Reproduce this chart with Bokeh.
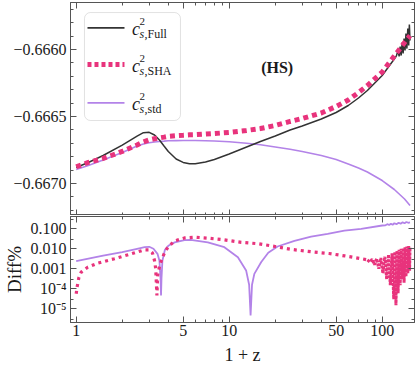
from bokeh.plotting import figure
from bokeh.layouts import column
from bokeh.models import (LinearAxis, LogAxis, FixedTicker, CustomJSTickFormatter,
                          Range1d, BoxAnnotation, Label)
from bokeh.embed import file_html
from bokeh.resources import INLINE

# ---------------- data ----------------
# top panel: squared sound speed vs 1+z
z_top = [1, 1.2, 1.5, 2, 2.5, 2.75, 3, 3.25, 3.5, 3.75, 4, 4.5, 5, 5.5, 6, 7, 8, 10,
         13, 16, 20, 25, 30, 40, 50, 60, 70, 80, 100, 120, 140, 152]
cs2_sha = [-0.666875, -0.666843, -0.666813, -0.666761, -0.666713, -0.666690, -0.666675,
           -0.666666, -0.666660, -0.666654, -0.666648, -0.666643, -0.666640, -0.666637,
           -0.666636, -0.666631, -0.666627, -0.666619, -0.666604, -0.666590, -0.666567,
           -0.666537, -0.666515, -0.666474, -0.666425, -0.666377, -0.666321, -0.666269,
           -0.666168, -0.666049, -0.665948, -0.665896]
cs2_std = [-0.666896, -0.666866, -0.666825, -0.666769, -0.666720, -0.666705, -0.666696,
           -0.666690, -0.666687, -0.666684, -0.666681, -0.666680, -0.666679, -0.666679,
           -0.666679, -0.666681, -0.666683, -0.666689, -0.666700, -0.666711, -0.666728,
           -0.666745, -0.666761, -0.666791, -0.666821, -0.666854, -0.666884, -0.666914,
           -0.666978, -0.667045, -0.667116, -0.667164]
z_full = [1, 1.2, 1.5, 2, 2.5, 2.75, 3, 3.25, 3.5, 3.75, 4, 4.5, 5, 5.5, 6, 7, 8, 10,
          13, 16, 20, 25, 30, 40, 50, 60, 70, 80, 100, 120,
          124, 127, 129, 131, 133, 135, 137, 139, 141, 143, 145, 147, 149, 150.5, 152]
cs2_full = [-0.666881, -0.666843, -0.666791, -0.666713, -0.666646, -0.666621, -0.666618,
            -0.666638, -0.666675, -0.666720, -0.666761, -0.666817, -0.666843, -0.666853,
            -0.666852, -0.666840, -0.666821, -0.666780, -0.666728, -0.666687, -0.666646,
            -0.666601, -0.666571, -0.666519, -0.666470, -0.666418, -0.666362, -0.666306,
            -0.666194, -0.666071,
            -0.666045, -0.666007, -0.666052, -0.665978, -0.666045, -0.665948, -0.666030,
            -0.665918, -0.666007, -0.665881, -0.665993, -0.665843, -0.665970, -0.665813,
            -0.665933]

# bottom panel: percentage differences
z_std_d = [1, 1.5, 2, 2.5, 2.8, 3.0, 3.2, 3.4, 3.5, 3.56, 3.585, 3.61, 3.66, 3.8, 4.0,
           4.4, 5.1, 5.6, 7.25, 9.3, 11.4, 12.9, 13.5, 13.8, 14.1, 14.6, 16.2, 18, 20.7,
           26.7, 34.3, 44, 56.6, 72.9, 100, 105, 108, 111, 114, 117, 120, 124, 128, 132,
           136, 140, 144, 148, 152]
diff_std = [0.0024, 0.0045, 0.0069, 0.010, 0.012, 0.0126, 0.010, 0.0056, 0.0025, 0.00032,
            0.000047, 0.00032, 0.0025, 0.0089, 0.0141, 0.021, 0.027, 0.028, 0.021, 0.012,
            0.0038, 0.00083, 0.00016, 0.0000047, 0.00016, 0.00056, 0.0022, 0.0063, 0.013,
            0.025, 0.041, 0.056, 0.081, 0.10, 0.146, 0.15, 0.17, 0.155, 0.18, 0.16,
            0.19, 0.17, 0.2, 0.18, 0.21, 0.19, 0.22, 0.2, 0.21]
z_sha_d = [1, 1.015, 1.04, 1.078, 1.19, 1.38, 1.78, 2.29, 2.8, 3.0, 3.15, 3.25, 3.31, 3.37,
           3.41, 3.5, 3.6, 3.8, 4.0, 4.4, 5.1, 6, 7.3, 9.3, 12, 15.4, 20, 25, 35, 45, 57,
           73, 80, 83, 86, 89, 92, 95, 98, 101, 104, 107, 110, 113, 116, 119, 121, 123,
           125, 127, 129, 131, 133, 135, 137, 139, 141, 143, 145, 147, 149, 151, 152]
diff_sha = [5.6e-5, 1.26e-4, 3.5e-4, 6.8e-4, 1.2e-3, 1.9e-3, 3.2e-3, 5.6e-3, 8.9e-3, 8.9e-3,
            6.3e-3, 2.6e-3, 1.0e-3, 4.7e-5, 5e-4, 1.26e-3, 2.5e-3, 7.1e-3, 1.26e-2, 2.5e-2,
            3.5e-2, 3.8e-2, 3.4e-2, 2.8e-2, 2.1e-2, 1.8e-2, 1.3e-2, 9.5e-3, 7.0e-3, 5.8e-3,
            4.4e-3, 3.2e-3, 2.8e-3, 2.2e-3, 3.0e-3, 1.6e-3, 3.2e-3, 1.0e-3, 3.5e-3, 6e-4,
            4.0e-3, 3e-4, 5.0e-3, 1.5e-4, 6e-3, 3e-5, 7e-3, 1.5e-5, 8e-3, 6e-5, 9e-3,
            1.5e-4, 1.0e-2, 3e-4, 1.1e-2, 2e-4, 1.2e-2, 4e-4, 1.3e-2, 6e-4, 1.4e-2, 8e-4,
            1.2e-2]
noisy_from = 80  # 1+z above which the SHA difference becomes numerically noisy

# ticks
x_major = [1, 5, 10, 50, 100]
x_labels = ["1", "5", "10", "50", "100"]
x_minor = [2, 3, 4, 6, 7, 8, 9, 20, 30, 40, 60, 70, 80, 90, 200]
y_top_major = [-0.6670, -0.6665, -0.6660]
y_top_labels = ["\u22120.6670", "\u22120.6665", "\u22120.6660"]
y_top_minor = [-0.6672, -0.6671, -0.6669, -0.6668, -0.6667, -0.6666, -0.6664, -0.6663,
               -0.6662, -0.6661, -0.6659, -0.6658, -0.6657]
y_bot_major = [1e-5, 1e-4, 1e-3, 1e-2, 1e-1]
y_bot_labels = ["10\u207b\u2075", "10\u207b\u2074", "0.001", "0.010", "0.100"]
y_bot_minor = [3e-6, 3e-5, 3e-4, 3e-3, 3e-2, 3e-1]

# ---------------- style ----------------
BLACK = "#333333"
PINK = "#e8337c"
PURPLE = "#b383e8"
AXC = "#555555"
FONT = "Liberation Serif"

XR = (0.918, 162.6)
YR_TOP = (-0.667239, -0.665649)
YR_BOT = (2.065e-6, 0.412)

CODE = """
for (let i = 0; i < vals.length; i++) {
  if (Math.abs(vals[i] - tick) <= 1e-6 * Math.abs(vals[i])) { return labs[i]; }
}
return '';
"""


def fmt(vals, labs):
    return CustomJSTickFormatter(args=dict(vals=vals, labs=labs), code=CODE)


def style(ax, ticks, minor, labels=None, standoff=4):
    ax.ticker = FixedTicker(ticks=ticks, minor_ticks=minor)
    ax.major_tick_in = 6
    ax.major_tick_out = 0
    ax.minor_tick_in = 3
    ax.minor_tick_out = 0
    ax.axis_line_color = AXC
    ax.major_tick_line_color = AXC
    ax.minor_tick_line_color = AXC
    ax.major_label_text_font = FONT
    ax.major_label_text_color = "#1a1a1a"
    if labels is not None:
        ax.formatter = fmt(ticks, labels)
        ax.major_label_text_font_size = "16px"
        ax.major_label_standoff = standoff
    else:
        ax.formatter = CustomJSTickFormatter(code="return '';")
        ax.major_label_text_font_size = "0px"
        ax.major_label_standoff = 0


def base(p):
    p.xgrid.visible = False
    p.ygrid.visible = False
    p.outline_line_color = AXC
    p.background_fill_color = "white"
    p.border_fill_color = "white"


# pixel helpers for annotation placement in the top panel
def xs(px):
    return 10 ** ((px - 71.7) / 153.0)


def ys(py):
    return -0.6660 - (py - 49.0) * 0.0005 / 67.0


# ---------------- top panel ----------------
p1 = figure(frame_width=344, frame_height=213, x_axis_type="log",
            x_range=Range1d(*XR), y_range=Range1d(*YR_TOP),
            output_backend="svg", toolbar_location=None,
            min_border_left=66, min_border_right=7, min_border_top=2, min_border_bottom=0)
base(p1)
ax_b1 = p1.xaxis[0]
ax_l1 = p1.yaxis[0]
style(ax_b1, x_major, x_minor)
style(ax_l1, y_top_major, y_top_minor, y_top_labels)
ax_t1 = LogAxis()
style(ax_t1, x_major, x_minor)
p1.add_layout(ax_t1, "above")
ax_r1 = LinearAxis()
style(ax_r1, y_top_major, y_top_minor)
p1.add_layout(ax_r1, "right")

p1.line(z_top, cs2_std, color=PURPLE, line_width=1.6)
p1.line(z_full, cs2_full, color=BLACK, line_width=1.5)
p1.line(z_top, cs2_sha, color=PINK, line_width=5, line_dash="5 4")

# legend (drawn by hand so that the math-like labels stay real text)
p1.add_layout(BoxAnnotation(left=xs(80), right=xs(176), top=ys(12), bottom=ys(120),
                            fill_color="white", fill_alpha=1.0, line_color="#a0a0a0",
                            line_width=1, border_radius=6, level="underlay"))
entries = [("Full", BLACK, 1.6, None, 27.3),
           ("SHA", PINK, 5, "4 3", 64.0),
           ("std", PURPLE, 1.8, None, 102.3)]
for name, col, lw, dash, py in entries:
    kw = dict(color=col, line_width=lw)
    if dash:
        kw["line_dash"] = dash
    p1.line([xs(83), xs(120)], [ys(py), ys(py)], **kw)
    p1.add_layout(Label(x=xs(127.5), y=ys(py + 1), text="c", text_font=FONT,
                        text_font_style="italic", text_font_size="18px",
                        text_baseline="middle", text_align="left", text_color="#1a1a1a"))
    p1.add_layout(Label(x=xs(135), y=ys(py - 6), text="2", text_font=FONT,
                        text_font_size="11px", text_baseline="middle", text_align="left",
                        text_color="#1a1a1a"))
    p1.add_layout(Label(x=xs(135), y=ys(py + 6.5), text="s", text_font=FONT,
                        text_font_style="italic", text_font_size="12px",
                        text_baseline="middle", text_align="left", text_color="#1a1a1a"))
    p1.add_layout(Label(x=xs(140), y=ys(py + 6.5), text="," + name, text_font=FONT,
                        text_font_size="12px", text_baseline="middle", text_align="left",
                        text_color="#1a1a1a"))

p1.add_layout(Label(x=xs(272.7), y=ys(66.7), text="(HS)", text_font=FONT,
                    text_font_style="bold", text_font_size="16px", text_align="center",
                    text_baseline="middle", text_color="#1a1a1a"))

# ---------------- bottom panel ----------------
p2 = figure(frame_width=344, frame_height=106, x_axis_type="log", y_axis_type="log",
            x_range=Range1d(*XR), y_range=Range1d(*YR_BOT),
            output_backend="svg", toolbar_location=None,
            min_border_left=66, min_border_right=7, min_border_top=1, min_border_bottom=0)
base(p2)
ax_b2 = p2.xaxis[0]
ax_l2 = p2.yaxis[0]
style(ax_b2, x_major, x_minor, x_labels, standoff=2)
style(ax_l2, y_bot_major, y_bot_minor, y_bot_labels)
ax_t2 = LogAxis()
style(ax_t2, x_major, x_minor)
p2.add_layout(ax_t2, "above")
ax_r2 = LogAxis()
style(ax_r2, y_bot_major, y_bot_minor)
p2.add_layout(ax_r2, "right")

ax_l2.axis_label = "Diff%"
ax_l2.axis_label_text_font = FONT
ax_l2.axis_label_text_font_style = "normal"
ax_l2.axis_label_text_font_size = "19px"
ax_l2.axis_label_standoff = 3
ax_l2.axis_label_text_color = "#1a1a1a"
ax_b2.axis_label = "1 + z"
ax_b2.axis_label_text_font = FONT
ax_b2.axis_label_text_font_style = "normal"
ax_b2.axis_label_text_font_size = "18px"
ax_b2.axis_label_standoff = 6
ax_b2.axis_label_text_color = "#1a1a1a"

k0 = z_sha_d.index(noisy_from)
p2.line(z_std_d, diff_std, color=PURPLE, line_width=1.8)
p2.line(z_sha_d[:k0 + 1], diff_sha[:k0 + 1], color=PINK, line_width=3.2, line_dash="3 4")
p2.line(z_sha_d[k0:], diff_sha[k0:], color=PINK, line_width=3.0, line_dash="3 1")

layout = column(p1, p2, spacing=0)
open("out.html", "w").write(file_html(layout, INLINE, title="cs2 HS"))
